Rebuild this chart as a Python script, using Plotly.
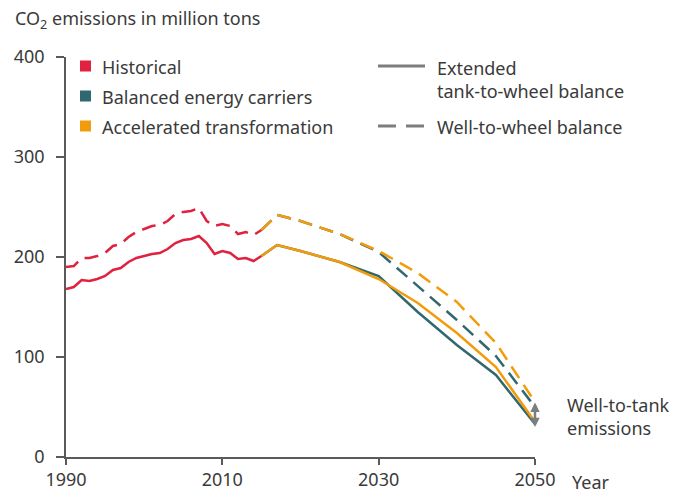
import plotly.graph_objects as go

# ---------------- data ----------------
hist_years = list(range(1990, 2016))
hist_ttw = [168, 170, 177, 176, 178, 181, 187, 189, 195, 199, 201, 203, 204, 208,
            214, 217, 218, 221, 214, 203, 206, 204, 198, 199, 196, 201]
hist_wtw = [190, 191, 199, 199, 201, 204, 211, 213, 220, 225, 228, 231, 232, 236,
            243, 245, 246, 249, 236, 231, 233, 231, 223, 225, 222, 227]

scen_years = [2015, 2017, 2020, 2025, 2030, 2035, 2040, 2045, 2050]
bal_ttw = [201, 212, 206, 195, 181, 145, 112, 82, 33]
acc_ttw = [201, 212, 206, 195, 178, 154, 124, 90, 35]
bal_wtw = [227, 242, 236, 223, 205, 171, 137, 101, 50]
acc_wtw = [227, 242, 236, 223, 206, 184, 155, 114, 55]
wtt_arrow = [30, 56]  # well-to-tank range at 2050

x_ticks = [1990, 2010, 2030, 2050]
y_ticks = [0, 100, 200, 300, 400]

RED = "#E0213F"
TEAL = "#316870"
ORANGE = "#F39C0B"
GRAY = "#7d7d7d"
AXIS = "#5a5a5a"
TXT = "#3a3a3a"
FONT = "Noto Sans"
FS = 18
DASH = "14px,8px"
LW = 2.5

fig = go.Figure()

def add(x, y, color, dash):
    fig.add_trace(go.Scatter(x=x, y=y, mode="lines",
                             line=dict(color=color, width=LW, dash=dash),
                             showlegend=False, hoverinfo="skip"))

add(hist_years, hist_wtw, RED, DASH)
add(hist_years, hist_ttw, RED, "solid")
add(scen_years, bal_wtw, TEAL, DASH)
add(scen_years, bal_ttw, TEAL, "solid")
add(scen_years, acc_wtw, ORANGE, DASH)
add(scen_years, acc_ttw, ORANGE, "solid")

L, T, W, H = 66, 57, 469, 400
def px(xp):
    return (xp - L) / W
def py(yp):
    return (T + H - yp) / H

shapes = []
annotations = []

# left legend (colour squares)
for label, color, yc in [("Historical", RED, 66),
                         ("Balanced energy carriers", TEAL, 96),
                         ("Accelerated transformation", ORANGE, 126)]:
    shapes.append(dict(type="rect", xref="paper", yref="paper",
                       x0=px(80), x1=px(91), y0=py(yc - 5.5), y1=py(yc + 5.5),
                       fillcolor=color, line=dict(width=0)))
    annotations.append(dict(text=label, xref="paper", yref="paper",
                            x=px(100), y=py(yc + 1), xanchor="left", yanchor="middle",
                            showarrow=False, font=dict(size=FS, color=TXT, family=FONT)))

# right legend (line styles)
shapes.append(dict(type="line", xref="paper", yref="paper",
                   x0=px(378), x1=px(425), y0=py(66), y1=py(66),
                   line=dict(color=GRAY, width=3)))
shapes.append(dict(type="line", xref="paper", yref="paper",
                   x0=px(378), x1=px(425), y0=py(126), y1=py(126),
                   line=dict(color=GRAY, width=3, dash="18px,10px")))
annotations.append(dict(text="Extended<br>tank-to-wheel balance", xref="paper", yref="paper",
                        x=px(435), y=py(79), xanchor="left", yanchor="middle", align="left",
                        showarrow=False, font=dict(size=FS, color=TXT, family=FONT)))
annotations.append(dict(text="Well-to-wheel balance", xref="paper", yref="paper",
                        x=px(435), y=py(127), xanchor="left", yanchor="middle",
                        showarrow=False, font=dict(size=FS, color=TXT, family=FONT)))

# title / axis labels
annotations.append(dict(text="CO<sub>2</sub> emissions in million tons", xref="paper", yref="paper",
                        x=px(13), y=py(19), xanchor="left", yanchor="middle",
                        showarrow=False, font=dict(size=FS, color=TXT, family=FONT)))
annotations.append(dict(text="Year", xref="paper", yref="paper",
                        x=px(570), y=py(482), xanchor="left", yanchor="middle",
                        showarrow=False, font=dict(size=FS, color=TXT, family=FONT)))
annotations.append(dict(text="Well-to-tank<br>emissions", xref="paper", yref="paper",
                        x=px(565), y=py(416), xanchor="left", yanchor="middle", align="left",
                        showarrow=False, font=dict(size=FS, color=TXT, family=FONT)))

# well-to-tank arrow at 2050
annotations.append(dict(text="", x=2050, y=wtt_arrow[0], ax=2050, ay=wtt_arrow[1],
                        xref="x", yref="y", axref="x", ayref="y",
                        showarrow=True, arrowhead=2, startarrowhead=2, arrowside="end+start",
                        arrowwidth=2.5, arrowsize=0.75, startarrowsize=0.75, arrowcolor=GRAY,
                        standoff=0, startstandoff=0))

fig.update_layout(
    width=677, height=493,
    margin=dict(l=L, r=677 - L - W, t=T, b=493 - T - H, autoexpand=False),
    paper_bgcolor="white", plot_bgcolor="white",
    font=dict(family=FONT, size=FS, color=TXT),
    shapes=shapes, annotations=annotations,
    xaxis=dict(range=[1990, 2050], tickvals=x_ticks, ticks="outside", ticklen=6,
               tickwidth=1.5, tickcolor=AXIS, showline=True, linecolor=AXIS, linewidth=1.5,
               showgrid=False, zeroline=False, automargin=False,
               tickfont=dict(size=FS, color=TXT, family=FONT)),
    yaxis=dict(range=[0, 400], tickvals=y_ticks, ticks="outside", ticklen=8,
               tickwidth=1.5, tickcolor=AXIS, showline=True, linecolor=AXIS, linewidth=1.5,
               showgrid=False, zeroline=False, automargin=False, ticklabelstandoff=8,
               tickfont=dict(size=FS, color=TXT, family=FONT)),
)

fig.write_html("out.html", config={"displayModeBar": False},
               post_script="document.body.style.margin='0px';document.body.style.overflow='hidden';")
